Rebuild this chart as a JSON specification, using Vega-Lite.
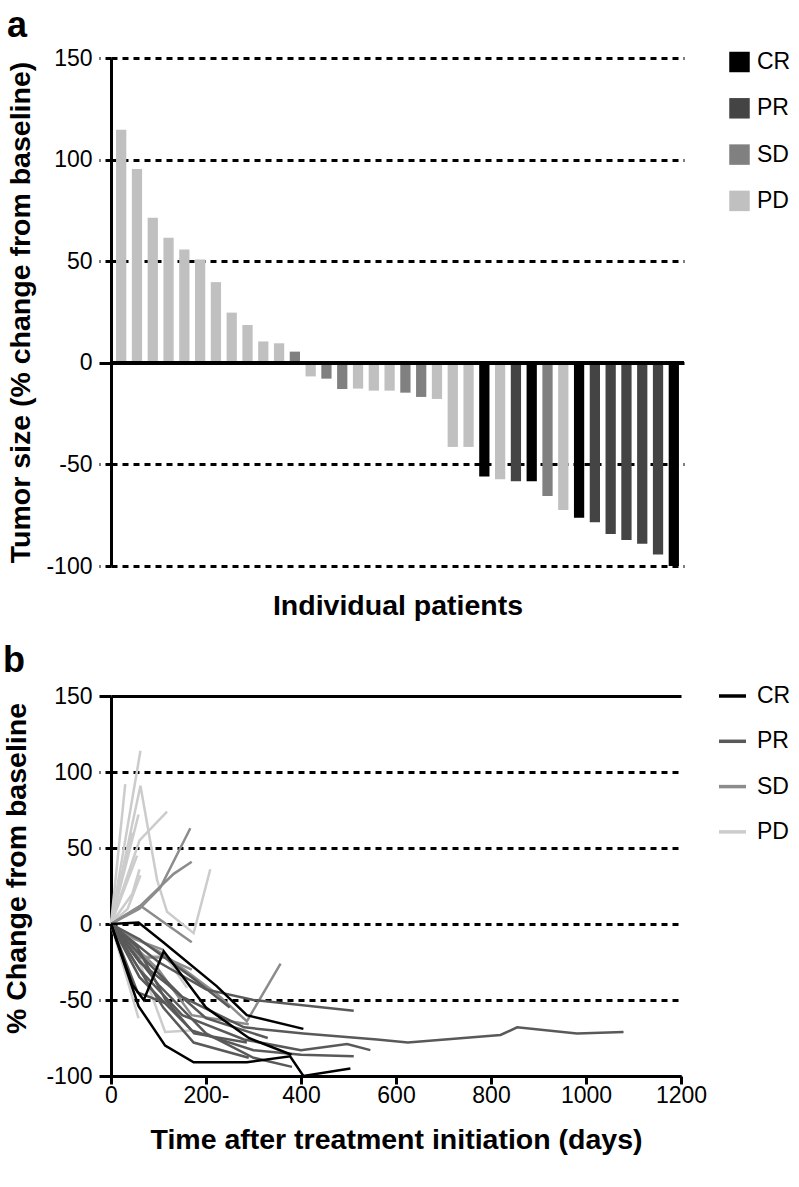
{
  "$schema": "https://vega.github.io/schema/vega-lite/v6.json",
  "padding": {"left": 2, "top": 8, "right": 5, "bottom": 5},
  "background": "white",
  "spacing": 22,
  "config": {
    "font": "Liberation Sans",
    "view": {"stroke": null},
    "axis": {"labelFont": "Liberation Sans", "titleFont": "Liberation Sans", "labelColor": "black", "titleColor": "black", "domainColor": "black", "tickColor": "black", "gridColor": "black", "gridOpacity": 1, "labelFontSize": 23, "titleFontSize": 28.5, "titleFontWeight": "bold"},
    "legend": {"labelFont": "Liberation Sans", "labelColor": "black", "labelFontSize": 23},
    "title": {"font": "Liberation Sans", "color": "black"}
  },
  "resolve": {"scale": {"color": "independent", "x": "independent", "y": "independent"}, "legend": {"color": "independent"}},
  "vconcat": [
    {
      "width": 573,
      "height": 508,
      "title": {"text": "a", "anchor": "start", "frame": "bounds", "fontSize": 36, "fontWeight": "bold", "offset": 2},
      "data": {"values": [
        {"patient": 1, "change": 114.7, "response": "PD"},
        {"patient": 2, "change": 95.4, "response": "PD"},
        {"patient": 3, "change": 71.4, "response": "PD"},
        {"patient": 4, "change": 61.6, "response": "PD"},
        {"patient": 5, "change": 55.7, "response": "PD"},
        {"patient": 6, "change": 50.8, "response": "PD"},
        {"patient": 7, "change": 39.7, "response": "PD"},
        {"patient": 8, "change": 24.7, "response": "PD"},
        {"patient": 9, "change": 18.6, "response": "PD"},
        {"patient": 10, "change": 10.5, "response": "PD"},
        {"patient": 11, "change": 9.6, "response": "PD"},
        {"patient": 12, "change": 5.5, "response": "SD"},
        {"patient": 13, "change": -6.7, "response": "PD"},
        {"patient": 14, "change": -7.8, "response": "SD"},
        {"patient": 15, "change": -12.9, "response": "SD"},
        {"patient": 16, "change": -12.7, "response": "PD"},
        {"patient": 17, "change": -13.7, "response": "PD"},
        {"patient": 18, "change": -13.7, "response": "PD"},
        {"patient": 19, "change": -14.7, "response": "SD"},
        {"patient": 20, "change": -16.8, "response": "SD"},
        {"patient": 21, "change": -17.8, "response": "PD"},
        {"patient": 22, "change": -41.4, "response": "PD"},
        {"patient": 23, "change": -41.4, "response": "PD"},
        {"patient": 24, "change": -55.9, "response": "CR"},
        {"patient": 25, "change": -57.3, "response": "PD"},
        {"patient": 26, "change": -58.3, "response": "PR"},
        {"patient": 27, "change": -58.3, "response": "CR"},
        {"patient": 28, "change": -65.5, "response": "SD"},
        {"patient": 29, "change": -72.4, "response": "PD"},
        {"patient": 30, "change": -76.2, "response": "CR"},
        {"patient": 31, "change": -78.5, "response": "PR"},
        {"patient": 32, "change": -84.3, "response": "PR"},
        {"patient": 33, "change": -87.2, "response": "PR"},
        {"patient": 34, "change": -89.0, "response": "PR"},
        {"patient": 35, "change": -94.4, "response": "PR"},
        {"patient": 36, "change": -100, "response": "CR"}
      ]},
      "layer": [
        {
          "mark": {"type": "bar"},
          "encoding": {
            "x": {"field": "patient", "type": "ordinal", "sort": null,
                  "scale": {"paddingInner": 0.35, "paddingOuter": 0.32},
                  "axis": {"title": "Individual patients", "labels": false, "ticks": false, "domain": false, "titlePadding": 25}},
            "y": {"field": "change", "type": "quantitative",
                  "scale": {"domain": [-100, 150], "nice": false},
                  "axis": {"title": "Tumor size (% change from baseline)", "values": [-100, -50, 0, 50, 100, 150],
                           "labelExpr": "'' + datum.value",
                           "grid": true, "gridWidth": 3, "gridDash": [6, 5],
                           "domainWidth": 3, "tickSize": 12, "tickWidth": 3,
                           "tickDash": {"condition": {"test": "datum.value == 0", "value": []}, "value": [6, 5]},
                           "labelPadding": 7, "titlePadding": 10}},
            "color": {"field": "response", "type": "nominal",
                      "scale": {"domain": ["CR", "PR", "SD", "PD"], "range": ["#000000", "#444444", "#808080", "#c0c0c0"]},
                      "legend": {"title": null, "orient": "none", "legendX": 617, "legendY": -7.5, "symbolType": "square", "symbolSize": 420, "symbolStrokeWidth": 0, "symbolOpacity": 1, "rowPadding": 22.3, "labelOffset": 6}}
          }
        },
        {
          "mark": {"type": "rule", "color": "black", "strokeWidth": 3},
          "encoding": {"y": {"datum": 0}}
        }
      ]
    },
    {
      "width": 570,
      "height": 380,
      "title": {"text": "b", "anchor": "start", "frame": "bounds", "fontSize": 36, "fontWeight": "bold", "offset": 1},
      "data": {"values": [
        {"id": "P1", "r": "PD", "d": 0, "v": 0}, {"id": "P1", "r": "PD", "d": 62, "v": 114},
        {"id": "P2", "r": "PD", "d": 0, "v": 0}, {"id": "P2", "r": "PD", "d": 30, "v": 92},
        {"id": "P3", "r": "PD", "d": 0, "v": 0}, {"id": "P3", "r": "PD", "d": 62, "v": 91}, {"id": "P3", "r": "PD", "d": 97, "v": 29}, {"id": "P3", "r": "PD", "d": 118, "v": 8}, {"id": "P3", "r": "PD", "d": 174, "v": -6}, {"id": "P3", "r": "PD", "d": 209, "v": 36},
        {"id": "P4", "r": "PD", "d": 0, "v": 0}, {"id": "P4", "r": "PD", "d": 60, "v": 55}, {"id": "P4", "r": "PD", "d": 118, "v": 74},
        {"id": "P5", "r": "PD", "d": 0, "v": 0}, {"id": "P5", "r": "PD", "d": 58, "v": 72},
        {"id": "P6", "r": "PD", "d": 0, "v": 0}, {"id": "P6", "r": "PD", "d": 45, "v": 60},
        {"id": "P7", "r": "PD", "d": 0, "v": 0}, {"id": "P7", "r": "PD", "d": 55, "v": 45},
        {"id": "P8", "r": "PD", "d": 0, "v": 0}, {"id": "P8", "r": "PD", "d": 35, "v": 10}, {"id": "P8", "r": "PD", "d": 62, "v": 32},
        {"id": "P9", "r": "PD", "d": 0, "v": 0}, {"id": "P9", "r": "PD", "d": 58, "v": -62},
        {"id": "P10", "r": "PD", "d": 0, "v": 0}, {"id": "P10", "r": "PD", "d": 60, "v": -25}, {"id": "P10", "r": "PD", "d": 114, "v": -71}, {"id": "P10", "r": "PD", "d": 167, "v": -70},
        {"id": "P11", "r": "PD", "d": 0, "v": 0}, {"id": "P11", "r": "PD", "d": 58, "v": -21}, {"id": "P11", "r": "PD", "d": 114, "v": -21}, {"id": "P11", "r": "PD", "d": 160, "v": -42},
        {"id": "P12", "r": "PD", "d": 0, "v": 0}, {"id": "P12", "r": "PD", "d": 45, "v": 20}, {"id": "P12", "r": "PD", "d": 60, "v": 36},
        {"id": "P13", "r": "PD", "d": 0, "v": 0}, {"id": "P13", "r": "PD", "d": 40, "v": -10}, {"id": "P13", "r": "PD", "d": 75, "v": -30},
        {"id": "S1", "r": "SD", "d": 0, "v": 0}, {"id": "S1", "r": "SD", "d": 60, "v": 10}, {"id": "S1", "r": "SD", "d": 104, "v": 24}, {"id": "S1", "r": "SD", "d": 167, "v": 63},
        {"id": "S2", "r": "SD", "d": 0, "v": 0}, {"id": "S2", "r": "SD", "d": 62, "v": 12}, {"id": "S2", "r": "SD", "d": 132, "v": 33}, {"id": "S2", "r": "SD", "d": 170, "v": 41},
        {"id": "S3", "r": "SD", "d": 0, "v": 0}, {"id": "S3", "r": "SD", "d": 62, "v": 12}, {"id": "S3", "r": "SD", "d": 170, "v": -12},
        {"id": "S4", "r": "SD", "d": 0, "v": 0}, {"id": "S4", "r": "SD", "d": 111, "v": -20}, {"id": "S4", "r": "SD", "d": 223, "v": -46}, {"id": "S4", "r": "SD", "d": 286, "v": -64}, {"id": "S4", "r": "SD", "d": 357, "v": -26},
        {"id": "S5", "r": "SD", "d": 0, "v": 0}, {"id": "S5", "r": "SD", "d": 58, "v": -22}, {"id": "S5", "r": "SD", "d": 114, "v": -22}, {"id": "S5", "r": "SD", "d": 170, "v": -30},
        {"id": "S6", "r": "SD", "d": 0, "v": 0}, {"id": "S6", "r": "SD", "d": 100, "v": -30}, {"id": "S6", "r": "SD", "d": 170, "v": -60}, {"id": "S6", "r": "SD", "d": 290, "v": -66},
        {"id": "S7", "r": "SD", "d": 0, "v": 0}, {"id": "S7", "r": "SD", "d": 50, "v": -10}, {"id": "S7", "r": "SD", "d": 110, "v": -17},
        {"id": "R1", "r": "PR", "d": 0, "v": 0}, {"id": "R1", "r": "PR", "d": 60, "v": -20}, {"id": "R1", "r": "PR", "d": 150, "v": -48}, {"id": "R1", "r": "PR", "d": 280, "v": -68}, {"id": "R1", "r": "PR", "d": 405, "v": -72}, {"id": "R1", "r": "PR", "d": 560, "v": -76}, {"id": "R1", "r": "PR", "d": 625, "v": -78}, {"id": "R1", "r": "PR", "d": 820, "v": -73}, {"id": "R1", "r": "PR", "d": 855, "v": -68}, {"id": "R1", "r": "PR", "d": 981, "v": -72}, {"id": "R1", "r": "PR", "d": 1079, "v": -71},
        {"id": "R2", "r": "PR", "d": 0, "v": 0}, {"id": "R2", "r": "PR", "d": 100, "v": -25}, {"id": "R2", "r": "PR", "d": 200, "v": -43}, {"id": "R2", "r": "PR", "d": 300, "v": -50}, {"id": "R2", "r": "PR", "d": 511, "v": -57},
        {"id": "R3", "r": "PR", "d": 0, "v": 0}, {"id": "R3", "r": "PR", "d": 60, "v": -30}, {"id": "R3", "r": "PR", "d": 150, "v": -60}, {"id": "R3", "r": "PR", "d": 280, "v": -76}, {"id": "R3", "r": "PR", "d": 400, "v": -83}, {"id": "R3", "r": "PR", "d": 497, "v": -79}, {"id": "R3", "r": "PR", "d": 546, "v": -83},
        {"id": "R4", "r": "PR", "d": 0, "v": 0}, {"id": "R4", "r": "PR", "d": 60, "v": -35}, {"id": "R4", "r": "PR", "d": 170, "v": -70}, {"id": "R4", "r": "PR", "d": 300, "v": -83}, {"id": "R4", "r": "PR", "d": 400, "v": -86}, {"id": "R4", "r": "PR", "d": 511, "v": -87},
        {"id": "R5", "r": "PR", "d": 0, "v": 0}, {"id": "R5", "r": "PR", "d": 100, "v": -40}, {"id": "R5", "r": "PR", "d": 200, "v": -72}, {"id": "R5", "r": "PR", "d": 300, "v": -88}, {"id": "R5", "r": "PR", "d": 381, "v": -94},
        {"id": "R6", "r": "PR", "d": 0, "v": 0}, {"id": "R6", "r": "PR", "d": 55, "v": -15}, {"id": "R6", "r": "PR", "d": 115, "v": -50}, {"id": "R6", "r": "PR", "d": 175, "v": -72}, {"id": "R6", "r": "PR", "d": 286, "v": -78},
        {"id": "R7", "r": "PR", "d": 0, "v": 0}, {"id": "R7", "r": "PR", "d": 60, "v": -25}, {"id": "R7", "r": "PR", "d": 120, "v": -40}, {"id": "R7", "r": "PR", "d": 200, "v": -62}, {"id": "R7", "r": "PR", "d": 330, "v": -75},
        {"id": "R8", "r": "PR", "d": 0, "v": 0}, {"id": "R8", "r": "PR", "d": 30, "v": -15}, {"id": "R8", "r": "PR", "d": 110, "v": -55}, {"id": "R8", "r": "PR", "d": 174, "v": -78}, {"id": "R8", "r": "PR", "d": 290, "v": -88},
        {"id": "R9", "r": "PR", "d": 0, "v": 0}, {"id": "R9", "r": "PR", "d": 60, "v": -10}, {"id": "R9", "r": "PR", "d": 170, "v": -35}, {"id": "R9", "r": "PR", "d": 250, "v": -55},
        {"id": "R10", "r": "PR", "d": 0, "v": 0}, {"id": "R10", "r": "PR", "d": 56, "v": -45}, {"id": "R10", "r": "PR", "d": 114, "v": -52},
        {"id": "C1", "r": "CR", "d": 0, "v": 0}, {"id": "C1", "r": "CR", "d": 58, "v": 1}, {"id": "C1", "r": "CR", "d": 110, "v": -12}, {"id": "C1", "r": "CR", "d": 223, "v": -41}, {"id": "C1", "r": "CR", "d": 286, "v": -60}, {"id": "C1", "r": "CR", "d": 405, "v": -69},
        {"id": "C2", "r": "CR", "d": 0, "v": 0}, {"id": "C2", "r": "CR", "d": 58, "v": -54}, {"id": "C2", "r": "CR", "d": 114, "v": -80}, {"id": "C2", "r": "CR", "d": 174, "v": -91}, {"id": "C2", "r": "CR", "d": 286, "v": -91}, {"id": "C2", "r": "CR", "d": 377, "v": -87}, {"id": "C2", "r": "CR", "d": 405, "v": -100}, {"id": "C2", "r": "CR", "d": 504, "v": -95},
        {"id": "C3", "r": "CR", "d": 0, "v": 0}, {"id": "C3", "r": "CR", "d": 45, "v": -40}, {"id": "C3", "r": "CR", "d": 69, "v": -50}, {"id": "C3", "r": "CR", "d": 111, "v": -18}, {"id": "C3", "r": "CR", "d": 200, "v": -55}, {"id": "C3", "r": "CR", "d": 290, "v": -75}, {"id": "C3", "r": "CR", "d": 380, "v": -86}
      ]},
      "encoding": {
        "x": {"field": "d", "type": "quantitative",
              "scale": {"domain": [0, 1200], "nice": false},
              "axis": {"title": "Time after treatment initiation (days)", "values": [0, 200, 400, 600, 800, 1000, 1200],
                       "labelExpr": "datum.value == 200 ? '200-' : '' + datum.value",
                       "grid": false, "domainWidth": 3, "tickSize": 8, "tickWidth": 3, "labelPadding": 0, "titlePadding": 18, "labelFlush": false}},
        "y": {"field": "v", "type": "quantitative",
              "scale": {"domain": [-100, 150], "nice": false},
              "axis": {"title": "% Change from baseline", "values": [-100, -50, 0, 50, 100, 150],
                       "labelExpr": "'' + datum.value",
                       "grid": true, "gridWidth": 3,
                       "gridDash": {"condition": {"test": "datum.value == 150 || datum.value == -100", "value": []}, "value": [6, 5]},
                       "domainWidth": 3, "tickSize": 12, "tickWidth": 3,
                       "tickDash": {"condition": {"test": "datum.value == 150 || datum.value == -100", "value": []}, "value": [6, 5]},
                       "labelPadding": 7, "titlePadding": 14, "titleY": 172}},
        "color": {"field": "r", "type": "nominal",
                  "scale": {"domain": ["CR", "PR", "SD", "PD"], "range": ["#000000", "#595959", "#8c8c8c", "#cccccc"]},
                  "legend": {"title": null, "orient": "none", "legendX": 606, "legendY": -15.5, "symbolType": "stroke", "symbolSize": 729, "symbolStrokeWidth": 3.5, "rowPadding": 17.3, "labelOffset": 9}},
        "detail": {"field": "id"},
        "order": {"field": "d", "type": "quantitative"}
      },
      "layer": [
        {"transform": [{"filter": "datum.r == 'PD'"}], "mark": {"type": "line", "strokeWidth": 2.5}},
        {"transform": [{"filter": "datum.r == 'SD'"}], "mark": {"type": "line", "strokeWidth": 2.5}},
        {"transform": [{"filter": "datum.r == 'PR'"}], "mark": {"type": "line", "strokeWidth": 2.5}},
        {"transform": [{"filter": "datum.r == 'CR'"}], "mark": {"type": "line", "strokeWidth": 2.5}}
      ]
    }
  ]
}
